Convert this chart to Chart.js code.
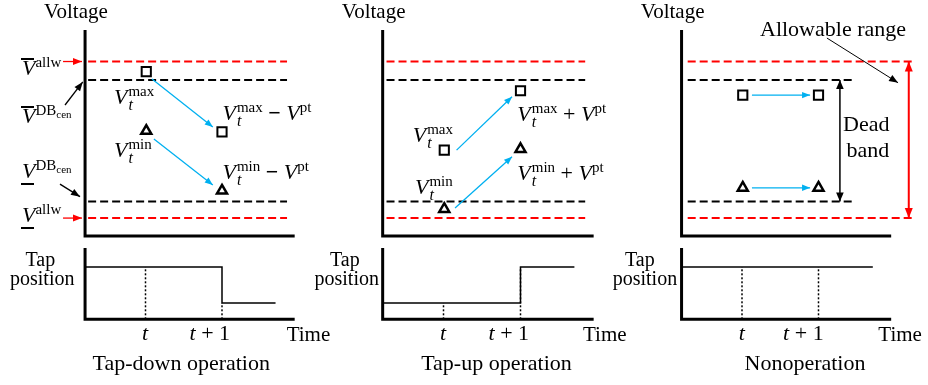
<!DOCTYPE html>
<html lang="en">
<head>
<meta charset="UTF-8">
<title>Tap operation</title>
<script src="https://cdn.jsdelivr.net/npm/chart.js"></script>
<style>
  body { margin: 0; width: 928px; height: 385px; background: #fff; position: relative; overflow: hidden;
         font-family: "Liberation Serif", "Times New Roman", serif; color: #000; }
  canvas { position: absolute; left: 0; top: 0; }
  .lb { position: absolute; white-space: nowrap; line-height: 1; font-size: 22px; }
  .bl { display: inline-block; width: 0; height: 0; }
  .st { display: inline-block; vertical-align: -6px; font-size: 15px; line-height: 13px; margin-left: 1px; }
  .st span { display: block; }
  .st .lo { font-style: italic; font-size: 16px; }
  .sp { font-size: 15px; vertical-align: 8px; line-height: 0; }
  .cen { font-size: 11px; vertical-align: -3px; }
  .ov, .un { position: relative; display: inline-block; }
  .ov::before { content: ""; position: absolute; left: -1px; right: 1px; top: 1px; height: 2px; background: #000; }
  .un::after { content: ""; position: absolute; left: -1px; right: 1px; bottom: -3px; height: 2px; background: #000; }
</style>
</head>
<body>
<script>
  // time axis: t and t+1
  const X_MIN = 0.21, X_MAX = 2.95;
  const tSteps = [1, 2];
  const markerX = [1.01, 2];

  // voltage levels (upper, lower)
  const allowable = [8.47, 0.87];
  const deadBand = [7.57, 1.67];

  // V^max / V^min at t and t+1
  const vMaxDown = [7.98, 5.05], vMinDown = [5.10, 2.20];
  const vMaxUp = [4.17, 7.05],   vMinUp = [1.31, 4.22];
  const vMaxHold = [6.84, 6.84], vMinHold = [2.34, 2.34];

  // voltage shift arrows [x0, y0, x1, y1]
  const shiftDown = [[1.085, 7.62, 1.88, 5.29], [1.11, 4.71, 1.88, 2.48]];
  const shiftUp = [[1.17, 4.17, 1.89, 6.76], [1.15, 1.36, 1.89, 3.85]];
  const shiftHold = [[1.13, 6.84, 1.89, 6.84], [1.13, 2.34, 1.89, 2.34]];

  // tap position
  const tapHigh = 3, tapLow = 1;
  const tapX = [X_MIN, 2, 2, 2.7];
  const tapDown = [tapHigh, tapHigh, tapLow, tapLow];
  const tapUp = [tapLow, tapLow, tapHigh, tapHigh];
  const holdX = [X_MIN, 2.71];
  const tapHold = [tapHigh, tapHigh];

  const Y_TOP = [0, 10], Y_BOT = [0.1, 4.06];
  const panels = [{ ox: 69, ux: 76.5 }, { ox: 366.5, ux: 77 }, { ox: 665.5, ux: 76.5 }];

  const RED = '#ff0000', CYAN = 'rgb(0,176,240)', BLACK = '#000';

  const arrowHeads = {
    id: 'arrowHeads',
    afterDatasetsDraw(chart) {
      const ctx = chart.ctx;
      chart.data.datasets.forEach((ds, i) => {
        if (!ds.head) return;
        const pts = chart.getDatasetMeta(i).data;
        const a = pts[0], b = pts[pts.length - 1];
        tip(ctx, b, a, ds);
        if (ds.head === 'both') tip(ctx, a, b, ds);
      });
    }
  };

  function tip(ctx, p, q, ds) {
    const ang = Math.atan2(p.y - q.y, p.x - q.x);
    const L = ds.headLen || 8, W = ds.headWid || 3.2;
    const c = Math.cos(ang), s = Math.sin(ang);
    ctx.save();
    ctx.fillStyle = ds.borderColor;
    ctx.beginPath();
    ctx.moveTo(p.x, p.y);
    ctx.lineTo(p.x - L * c + W * s, p.y - L * s - W * c);
    ctx.lineTo(p.x - L * c - W * s, p.y - L * s + W * c);
    ctx.closePath();
    ctx.fill();
    ctx.restore();
  }

  function line(xs, ys, color, width, dash, extra) {
    return Object.assign({
      data: xs.map((x, i) => ({ x, y: ys[i] })),
      showLine: true, pointRadius: 0, borderColor: color, borderWidth: width,
      borderDash: dash || [], clip: false
    }, extra || {});
  }

  function arrow(a, color, width, head, extra) {
    return line([a[0], a[2]], [a[1], a[3]], color, width, null,
      Object.assign({ head: head || 'end' }, extra || {}));
  }

  function markers(ys, style, r, bw) {
    return {
      data: markerX.map((x, i) => ({ x, y: ys[i] })),
      showLine: false, pointStyle: style, pointRadius: r, pointBorderWidth: bw,
      borderColor: BLACK, pointBorderColor: BLACK, pointBackgroundColor: '#fff',
      backgroundColor: '#fff', clip: false
    };
  }

  function axes(yr) {
    return line([X_MIN, X_MIN, X_MAX], [yr[1], yr[0], yr[0]], BLACK, 3);
  }

  function makeChart(p, yr, top, bottom, datasets) {
    const c = document.createElement('canvas');
    c.width = 928; c.height = 385;
    document.body.appendChild(c);
    const left = p.ox + X_MIN * p.ux, right = 928 - (p.ox + X_MAX * p.ux);
    return new Chart(c, {
      type: 'scatter',
      data: { datasets },
      options: {
        responsive: false, animation: false, devicePixelRatio: 1, events: [],
        layout: { padding: { left, right, top, bottom } },
        scales: {
          x: { type: 'linear', display: false, min: X_MIN, max: X_MAX },
          y: { type: 'linear', display: false, min: yr[0], max: yr[1] }
        },
        plugins: { legend: { display: false }, tooltip: { enabled: false } }
      },
      plugins: [arrowHeads]
    });
  }

  function levels(xr, redXr, blackXr) {
    return [
      line(redXr, [allowable[0], allowable[0]], RED, 2, [8, 4]),
      line(redXr, [allowable[1], allowable[1]], RED, 2, [8, 4]),
      line(blackXr, [deadBand[0], deadBand[0]], BLACK, 2, [8, 4]),
      line(blackXr, [deadBand[1], deadBand[1]], BLACK, 2, [8, 4])
    ];
  }

  function topPanel(p, vMax, vMin, shifts, extra, redXr, blackXr) {
    return makeChart(p, Y_TOP, 30, 149, [
      markers(vMax, 'rect', 6.5, 2),
      markers(vMin, 'triangle', 5.8, 2.5),
      arrow(shifts[0], CYAN, 1.3, 'end', { headLen: 8, headWid: 3.2 }),
      arrow(shifts[1], CYAN, 1.3, 'end', { headLen: 8, headWid: 3.2 }),
      ...extra,
      ...levels(null, redXr, blackXr),
      axes(Y_TOP)
    ]);
  }

  function tapPanel(p, xs, ys, dotTops) {
    return makeChart(p, Y_BOT, 248, 65.7, [
      axes(Y_BOT),
      line(xs, ys, BLACK, 1.5),
      line([tSteps[0], tSteps[0]], [Y_BOT[0], dotTops[0]], BLACK, 1.5, [2, 2]),
      line([tSteps[1], tSteps[1]], [Y_BOT[0], dotTops[1]], BLACK, 1.5, [2, 2])
    ]);
  }

  // tap-down
  topPanel(panels[0], vMaxDown, vMinDown, shiftDown, [
    arrow([-0.078, allowable[0], 0.17, allowable[0]], RED, 1.3, 'end', { headLen: 9, headWid: 3.5 }),
    arrow([-0.052, 6.36, 0.18, 7.48], BLACK, 1.3, 'end', { headLen: 9, headWid: 3.5 }),
    arrow([-0.118, 2.52, 0.144, 1.91], BLACK, 1.3, 'end', { headLen: 9, headWid: 3.5 }),
    arrow([-0.078, allowable[1], 0.17, allowable[1]], RED, 1.3, 'end', { headLen: 9, headWid: 3.5 })
  ], [0.25, 2.85], [0.25, 2.85]);
  tapPanel(panels[0], tapX, tapDown, [tapHigh, tapLow]);

  // tap-up
  topPanel(panels[1], vMaxUp, vMinUp, shiftUp, [], [0.26, 2.84], [0.26, 2.84]);
  tapPanel(panels[1], tapX, tapUp, [tapLow, tapHigh]);

  // no operation
  topPanel(panels[2], vMaxHold, vMinHold, shiftHold, [
    arrow([2.28, deadBand[0], 2.28, deadBand[1]], BLACK, 1.5, 'both', { headLen: 9, headWid: 3.8 }),
    arrow([3.18, allowable[0], 3.18, allowable[1]], RED, 2, 'both', { headLen: 10, headWid: 4 }),
    arrow([2.11, 9.61, 3.04, 7.44], BLACK, 1, 'end', { headLen: 9, headWid: 3.5 })
  ], [0.29, 3.26], [0.29, 2.48]);
  tapPanel(panels[2], holdX, tapHold, [tapHigh, tapHigh]);

  // text labels, placed by baseline
  function lab(html, x, base, size, align) {
    const d = document.createElement('div');
    d.className = 'lb';
    if (size) d.style.fontSize = size + 'px';
    d.innerHTML = html + '<span class="bl"></span>';
    document.body.appendChild(d);
    const m = d.querySelector('.bl');
    const b = m.offsetTop + m.offsetHeight;
    const w = d.offsetWidth;
    d.style.left = (align === 'center' ? x - w / 2 : x) + 'px';
    d.style.top = (base - b) + 'px';
  }

  const vt = (s) => '<i>V</i><span class="st"><span>' + s + '</span><span class="lo">t</span></span>';
  const vpt = '<i>V</i><span class="sp">pt</span>';
  const dbc = '<span class="sp">DB<span class="cen">cen</span></span>';
  const tp1 = '<i>t</i> + 1';

  lab('Voltage', 44, 17.5, 21);
  lab('Voltage', 341.7, 17.5, 21);
  lab('Voltage', 640.7, 17.5, 21);

  lab('<i class="ov">V</i><span class="sp">allw</span>', 22, 75);
  lab('<i class="ov">V</i>' + dbc, 22, 123);
  lab('<i class="un">V</i>' + dbc, 22, 178);
  lab('<i class="un">V</i><span class="sp">allw</span>', 22, 221.7);

  lab(vt('max'), 114, 103.5);
  lab(vt('max') + ' <b>&minus;</b> ' + vpt, 222.5, 119.5);
  lab(vt('min'), 114, 157);
  lab(vt('min') + ' <b>&minus;</b> ' + vpt, 222.5, 178.5);

  lab(vt('max'), 412.7, 142);
  lab(vt('max') + ' + ' + vpt, 517.3, 121);
  lab(vt('min'), 415, 194);
  lab(vt('min') + ' + ' + vpt, 517.3, 180);

  lab('Allowable range', 760, 35.5);
  lab('Dead', 866, 131, 22, 'center');
  lab('band', 868, 156.7, 22, 'center');

  [[40.5, 42, 145, 210, 286.7, 181, 'Tap-down operation'],
   [345, 346.5, 443, 509, 583, 496.7, 'Tap-up operation'],
   [640, 644.7, 741.7, 803.6, 878.3, 805, 'Nonoperation']].forEach(r => {
    lab('Tap', r[0], 266, 20, 'center');
    lab('position', r[1], 285, 20, 'center');
    lab('<i>t</i>', r[2], 340, 22, 'center');
    lab(tp1, r[3], 340, 22, 'center');
    lab('Time', r[4], 341, 21);
    lab(r[6], r[5], 370, 22, 'center');
  });
</script>
</body>
</html>
